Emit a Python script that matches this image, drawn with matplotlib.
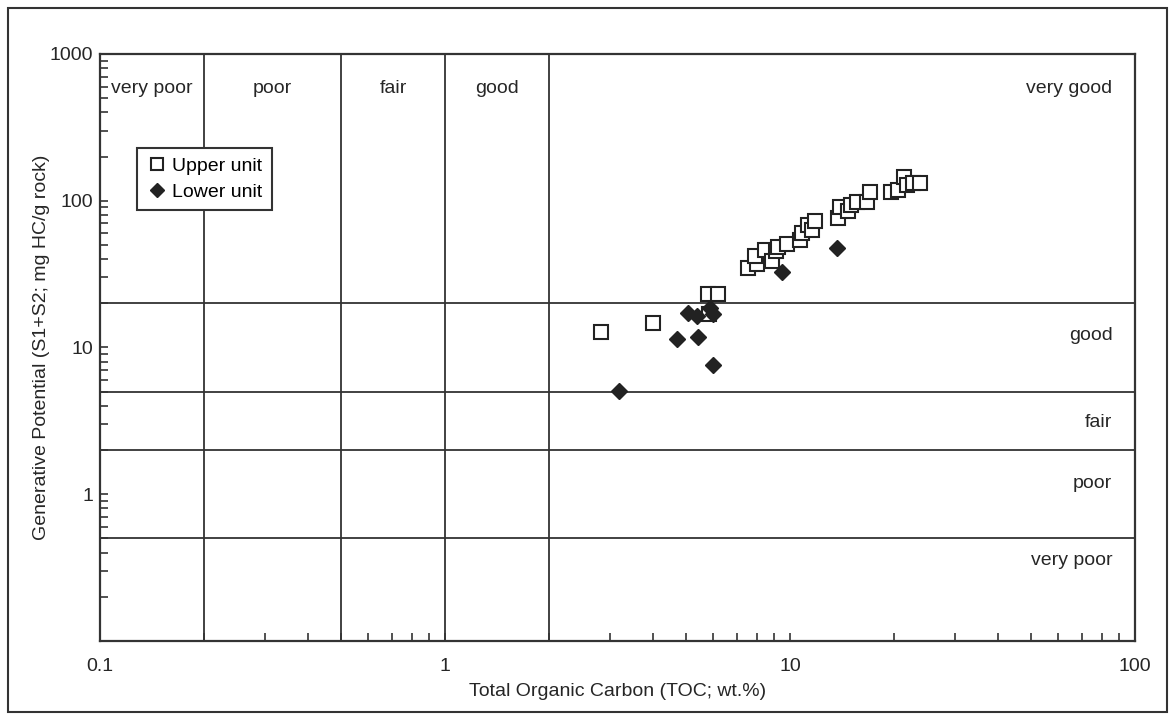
import numpy as np
import matplotlib.pyplot as plt
from matplotlib.ticker import LogLocator, NullFormatter, FixedLocator, FixedFormatter
from matplotlib.patches import Rectangle

plt.rcParams['font.family'] = ['Liberation Sans', 'DejaVu Sans']

# TOC (wt.%) and S1+S2 (mg HC/g rock)
upper_toc = [2.83, 4.01, 5.77, 6.17, 5.82, 7.54, 8.01, 7.92, 8.46, 8.85, 9.11,
             9.25, 9.78, 10.7, 10.8, 11.3, 11.6, 11.8, 13.8, 14.0, 14.7, 15.0,
             15.6, 16.7, 17.1, 19.6, 20.6, 21.4, 21.8, 22.8, 23.8]
upper_s1s2 = [12.8, 14.8, 23.0, 23.0, 16.9, 34.7, 36.9, 42.0, 46.2, 38.9, 45.5,
              48.2, 50.5, 54.1, 60.0, 68.4, 63.2, 72.8, 76.6, 90.2, 85.2, 93.5,
              97.6, 98.5, 115, 115, 118, 146, 129, 132, 132]

lower_toc = [3.20, 4.69, 5.42, 5.07, 5.37, 5.85, 6.00, 5.97, 9.46, 13.7]
lower_s1s2 = [5.08, 11.5, 11.8, 17.3, 16.4, 18.5, 17.0, 7.56, 32.9, 47.4]

# class boundaries
toc_bounds = [0.2, 0.5, 1, 2]
gp_bounds = [20, 5, 2, 0.5]
toc_classes = ['very poor', 'poor', 'fair', 'good']
toc_class_x = [0.141, 0.316, 0.707, 1.414]
gp_classes = ['very good', 'good', 'fair', 'poor', 'very poor']
gp_class_y = [586, 12, 3.06, 1.19, 0.356]

ink = '#333333'
txt = '#262626'
fs = 14

fig = plt.figure(figsize=(11.75, 7.2), dpi=100)
ax = fig.add_axes([100/1175, 1 - 641/720, 1035/1175, 587/720])
ax.set_xscale('log')
ax.set_yscale('log')
ax.set_xlim(0.1, 100)
ax.set_ylim(0.1, 1000)

for x in toc_bounds:
    ax.axvline(x, color=ink, lw=1.3, zorder=1)
for y in gp_bounds:
    ax.axhline(y, color=ink, lw=1.3, zorder=1)

ax.plot(upper_toc, upper_s1s2, 's', ms=10, mfc='white', mec='#222222', mew=1.5,
        ls='none', label='Upper unit', zorder=3)
ax.plot(lower_toc, lower_s1s2, 'D', ms=8, mfc='#222222', mec='#222222',
        ls='none', label='Lower unit', zorder=4)

for name, x in zip(toc_classes, toc_class_x):
    ax.text(x, gp_class_y[0], name, ha='center', va='center', fontsize=fs, color=txt)
ax.text(86, gp_class_y[0], gp_classes[0], ha='right', va='center', fontsize=fs, color=txt)
for name, y in zip(gp_classes[1:], gp_class_y[1:]):
    ax.text(86, y, name, ha='right', va='center', fontsize=fs, color=txt)

ax.xaxis.set_major_locator(FixedLocator([0.1, 1, 10, 100]))
ax.xaxis.set_major_formatter(FixedFormatter(['0.1', '1', '10', '100']))
ax.xaxis.set_minor_locator(LogLocator(base=10, subs=np.arange(2, 10), numticks=20))
ax.xaxis.set_minor_formatter(NullFormatter())
ax.yaxis.set_major_locator(FixedLocator([1, 10, 100, 1000]))
ax.yaxis.set_major_formatter(FixedFormatter(['1', '10', '100', '1000']))
ax.yaxis.set_minor_locator(LogLocator(base=10, subs=np.arange(2, 10), numticks=20))
ax.yaxis.set_minor_formatter(NullFormatter())
ax.tick_params(which='both', direction='in', length=6, width=1.2, color=ink,
               labelsize=fs, labelcolor=txt)
ax.tick_params(axis='x', pad=12)
ax.tick_params(axis='y', pad=5)

for s in ax.spines.values():
    s.set_linewidth(1.6)
    s.set_color(ink)

ax.set_xlabel('Total Organic Carbon (TOC; wt.%)', fontsize=fs, color=txt, labelpad=6)
ax.set_ylabel('Generative Potential (S1+S2; mg HC/g rock)', fontsize=fs, color=txt, labelpad=0)

leg = ax.legend(loc='upper left', bbox_to_anchor=(0.036, 0.84), fontsize=fs,
                frameon=True, fancybox=False, borderaxespad=0, handletextpad=0.3,
                handlelength=1.0, borderpad=0.5, labelspacing=0.4, markerscale=0.85)
leg.get_frame().set_edgecolor(ink)
leg.get_frame().set_linewidth(1.5)
leg.get_frame().set_alpha(1)
leg.set_zorder(5)

fig.patches.append(Rectangle((8/1175, 8/720), 1159/1175, 704/720, transform=fig.transFigure,
                             fill=False, edgecolor=ink, lw=1.5))

fig.savefig('out.png', dpi=100)
